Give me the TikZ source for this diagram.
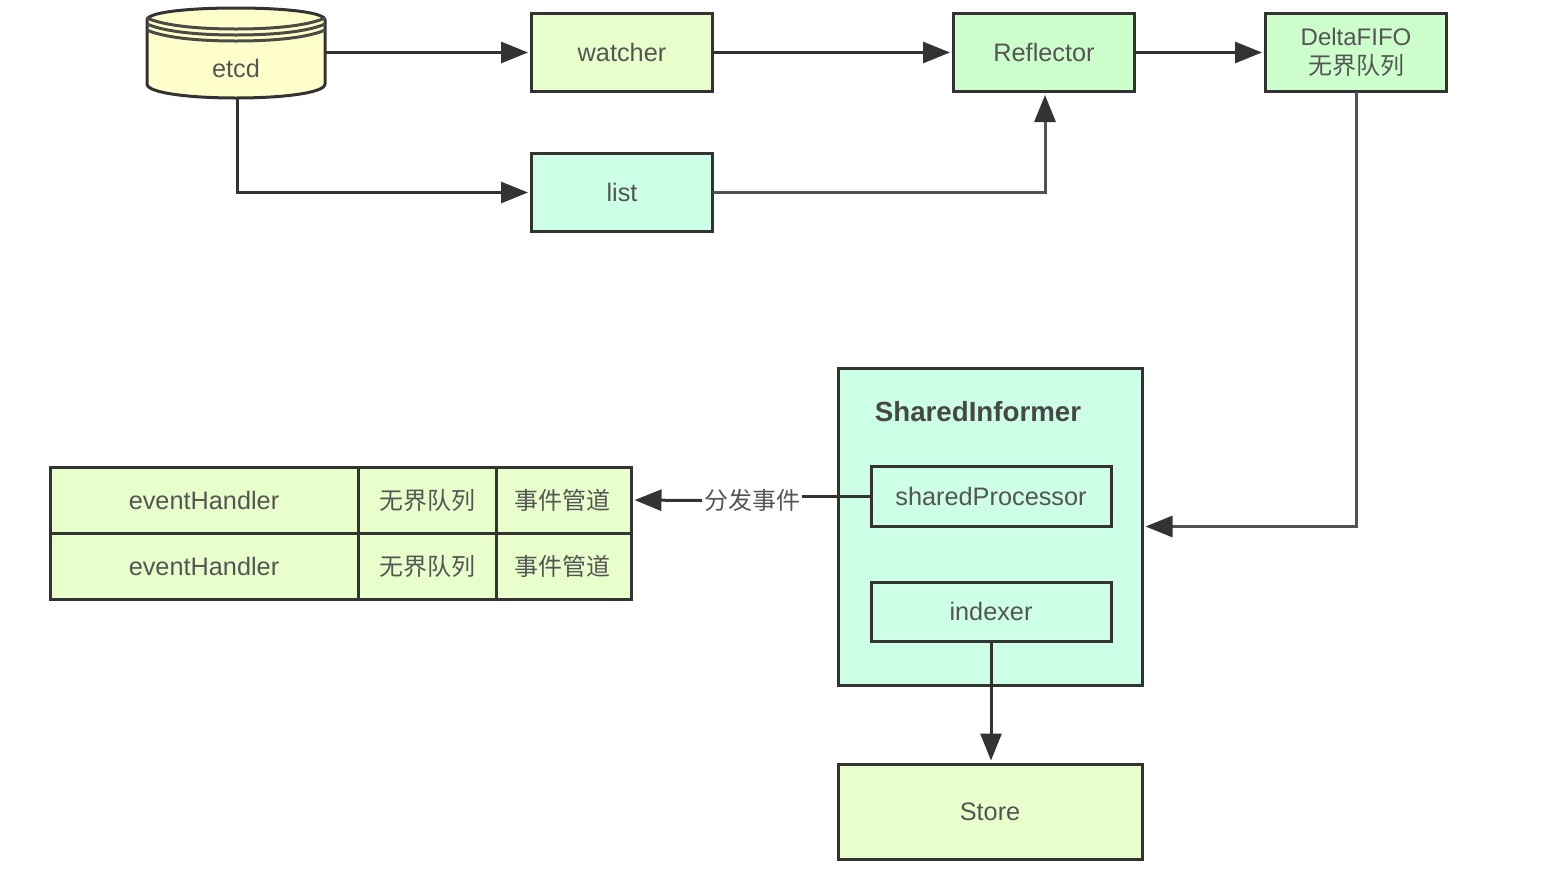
\documentclass[tikz,border=0pt]{standalone}
\usepackage{fontspec}
\setmainfont{Liberation Sans}
\newfontfamily\cjk{Noto Sans CJK SC}
\usetikzlibrary{arrows.meta}
\definecolor{edge}{HTML}{333333}
\definecolor{txt}{HTML}{555555}
\definecolor{fYellow}{HTML}{FFFFCC}
\definecolor{fLime}{HTML}{E8FFCC}
\definecolor{fGreen}{HTML}{CCFFCC}
\definecolor{fMint}{HTML}{CCFFE6}
\newcommand\zh[1]{{\cjk\fontsize{24}{29}\selectfont #1}}
\tikzset{
  x=1pt,y=-1pt,
  boxnode/.style={draw=edge,line width=3pt,outer sep=0pt,inner sep=0pt,align=center,
    text=txt,font=\fontsize{25.3}{29}\selectfont},
  wide/.style={boxnode,minimum width=181pt,minimum height=78pt},
  flow/.style={draw=edge,line width=3pt,-{Triangle[length=27pt,width=21pt,color=edge]},shorten >=3.5pt},
  softflow/.style={flow,draw=edge!85!white},
  plainline/.style={draw=edge,line width=3pt},
  plaintext/.style={text=txt,font=\fontsize{25.3}{29}\selectfont,inner sep=2pt,outer sep=0pt},
}
\begin{document}
\begin{tikzpicture}
\useasboundingbox (0,0) rectangle (1549,868);
% etcd cylinder
\draw[edge,line width=3pt,fill=fYellow,line join=round]
  (147,20) .. controls (147,12) and (190,8) .. (236,8)
  .. controls (282,8) and (325,12) .. (325,20)
  -- (325,84) .. controls (325,93) and (282,98) .. (236,98)
  .. controls (190,98) and (147,93) .. (147,84) -- cycle;
\foreach \d in {0,6,12}{
  \draw[edge!88!fYellow,line width=3pt]
    (147,\d+18) .. controls (165,\d+26) and (200,\d+29) .. (236,\d+29)
    .. controls (272,\d+29) and (307,\d+26) .. (325,\d+18);
}
\node[minimum width=178pt,minimum height=90pt,outer sep=0pt,inner sep=0pt] (etcd) at (236,53) {};
\node[plaintext] (etcdlabel) at (236,68) {etcd};
% top boxes
\node[wide,fill=fLime] (watcher) at (622,52.5) {watcher};
\node[wide,fill=fGreen] (reflector) at (1044,52.5) {Reflector};
\node[wide,fill=fGreen,font=\fontsize{24}{29}\selectfont] (delta) at (1356,52.5) {DeltaFIFO\\\zh{无界队列}};
\node[wide,fill=fMint] (list) at (622,192.5) {list};
% informer
\node[boxnode,fill=fMint,minimum width=304pt,minimum height=317pt] (informer) at (990,526.5) {};
\node[text=edge!90!white,font=\fontsize{27.7}{32}\selectfont\bfseries,inner sep=0pt] (title) at (978,412) {SharedInformer};
\node[boxnode,fill=fMint,minimum width=240pt,minimum height=60pt] (proc) at (991,496) {sharedProcessor};
\node[boxnode,fill=fMint,minimum width=240pt,minimum height=59pt] (indexer) at (991,611.5) {indexer};
\node[boxnode,fill=fLime,minimum width=304pt,minimum height=95pt] (store) at (990,811.5) {Store};
% table
\node[boxnode,fill=fLime,minimum width=308pt,minimum height=66pt] (h1) at (204,500) {eventHandler};
\node[boxnode,fill=fLime,minimum width=138pt,minimum height=66pt] (q1) at (427,500) {\zh{无界队列}};
\node[boxnode,fill=fLime,minimum width=135pt,minimum height=66pt] (p1) at (563.5,500) {\zh{事件管道}\hspace{3pt}};
\node[boxnode,fill=fLime,minimum width=308pt,minimum height=66pt] (h2) at (204,566) {eventHandler};
\node[boxnode,fill=fLime,minimum width=138pt,minimum height=66pt] (q2) at (427,566) {\zh{无界队列}};
\node[boxnode,fill=fLime,minimum width=135pt,minimum height=66pt] (p2) at (563.5,566) {\zh{事件管道}\hspace{3pt}};
% label
\node[text=txt,inner sep=2pt,outer sep=0pt] (send) at (752,500.5) {\zh{分发事件}};
% connectors
\draw[flow] (etcd.east|-watcher.west) -- (watcher.west);
\draw[flow] (watcher.east) -- (reflector.west);
\draw[flow] (reflector.east) -- (delta.west);
\draw[flow] (etcd.south-|237,0) -- (237,192.5) -- (list.west);
\draw[softflow] (list.east) -- (1045,192.5) -- (1045,91.5);
\draw[softflow] (delta.south) -- (1356,526.5) -- (informer.east|-1356,526.5);
\draw[plainline] (proc.west) -- (send.east|-proc.west);
\draw[flow] (send.west) -- (p1.east);
\draw[flow] (indexer.south) -- (store.north-|indexer.south);
\end{tikzpicture}
\end{document}
